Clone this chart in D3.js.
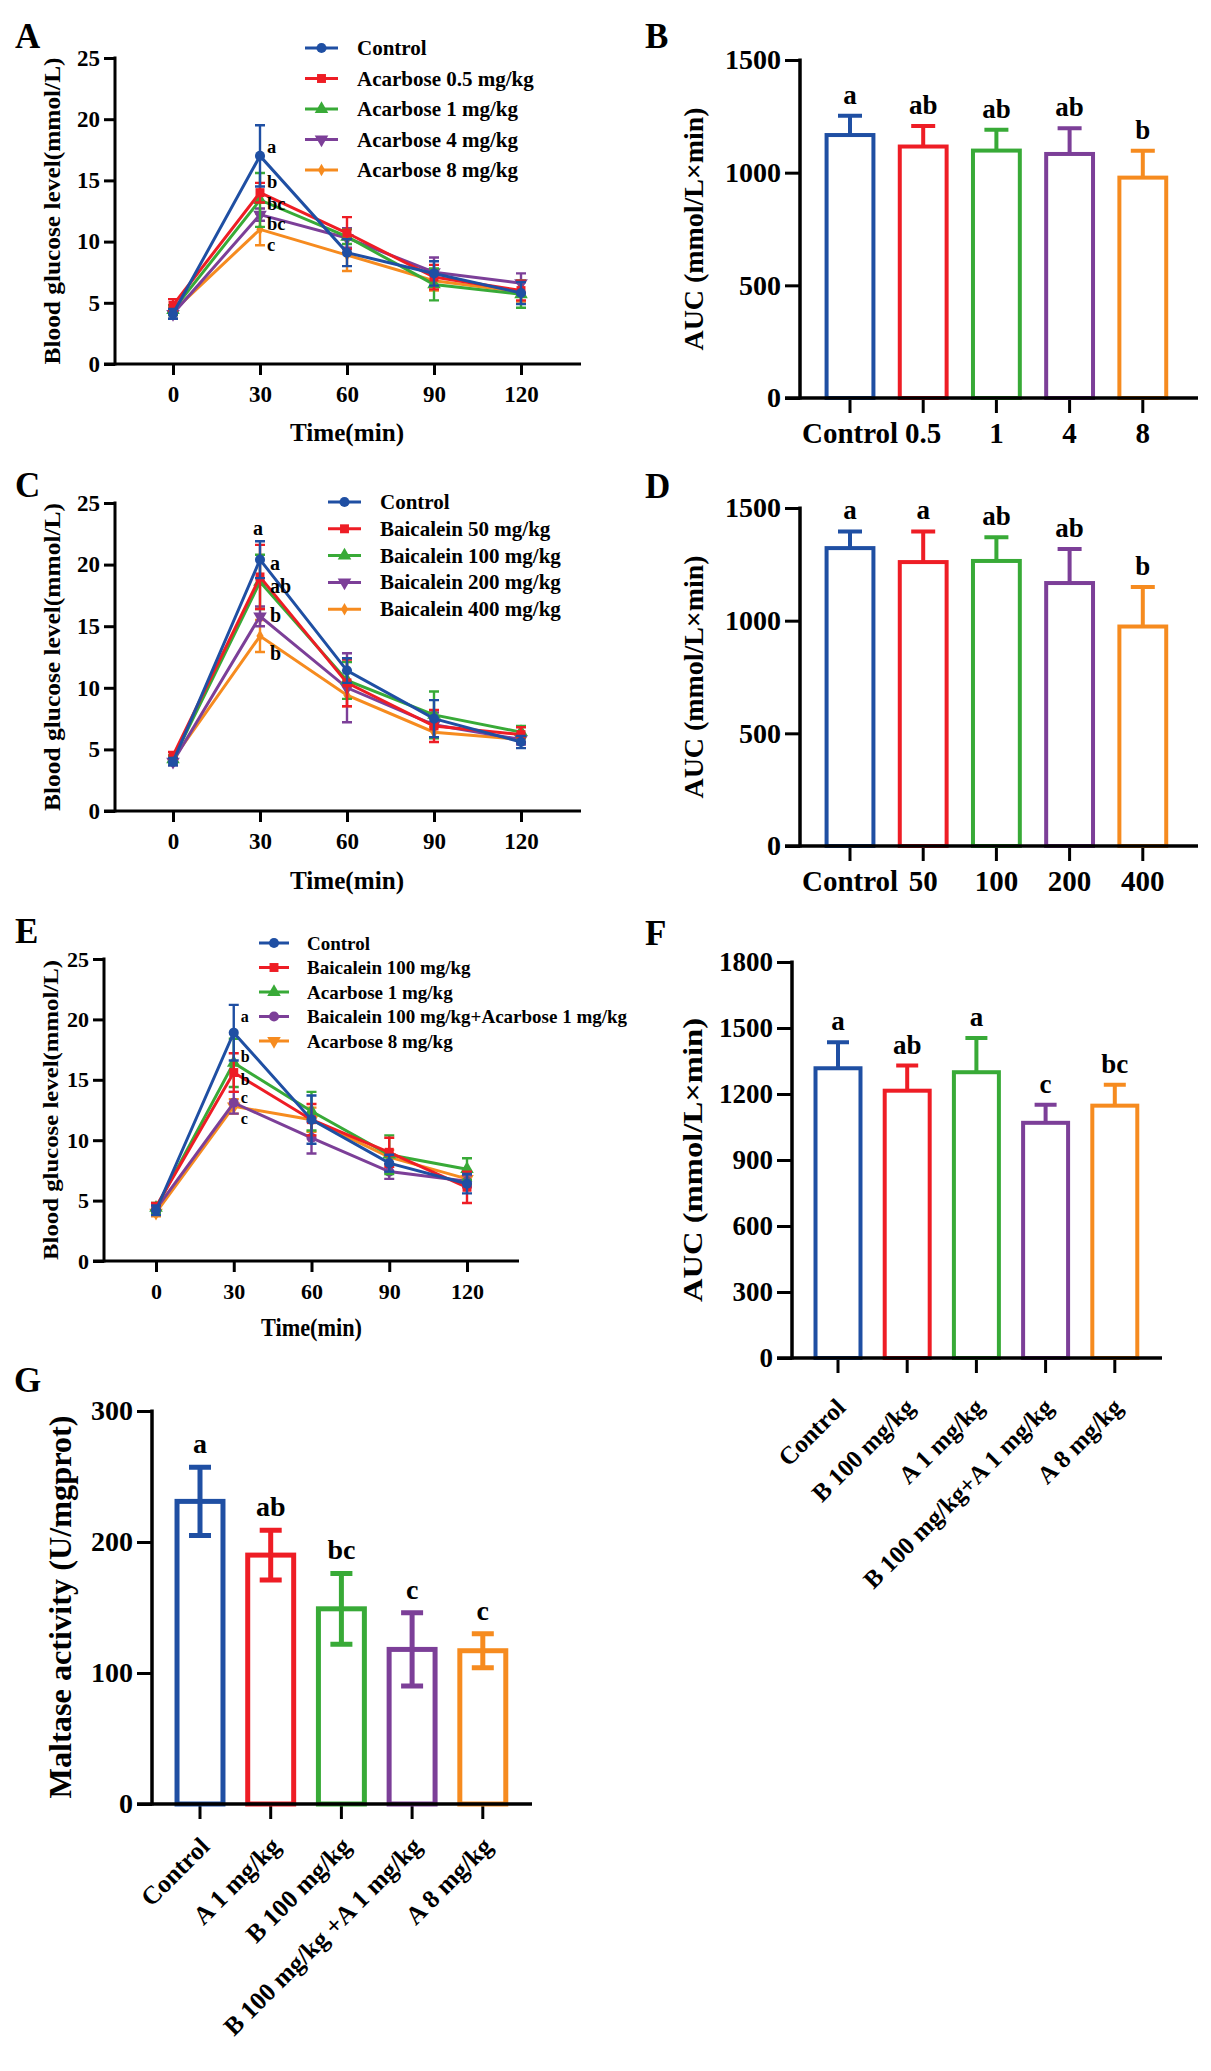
<!DOCTYPE html>
<html>
<head>
<meta charset="utf-8">
<script src="https://cdn.jsdelivr.net/npm/d3@7"></script>
<style>
  html, body { margin: 0; padding: 0; background: #fff; }
  svg { display: block; }
</style>
</head>
<body>
<svg id="fig" width="1211" height="2071"></svg>
<script>
// ------------------------
// Data
// ------------------------
const times = [ 0, 30, 60, 90, 120 ];
const glucoseTicks = [ 0, 5, 10, 15, 20, 25 ];

// A: acarbose OGTT
const acarboseNames = [ 'Control', 'Acarbose 0.5 mg/kg', 'Acarbose 1 mg/kg', 'Acarbose 4 mg/kg', 'Acarbose 8 mg/kg' ];
const acControl = [ 4.1, 17.0, 9.1, 7.4, 5.8 ];
const acControlErr = [ 0.4, 2.5, 1.1, 1.0, 0.9 ];
const ac05 = [ 4.8, 14.0, 10.7, 7.1, 6.0 ];
const ac05Err = [ 0.5, 0.8, 1.3, 1.0, 0.8 ];
const ac1 = [ 4.4, 13.4, 10.4, 6.5, 5.7 ];
const ac1Err = [ 0.4, 2.2, 0.6, 1.3, 1.1 ];
const ac4 = [ 4.1, 12.2, 10.3, 7.5, 6.6 ];
const ac4Err = [ 0.4, 0.5, 0.8, 1.2, 0.8 ];
const ac8 = [ 4.3, 11.0, 8.9, 6.8, 5.9 ];
const ac8Err = [ 0.3, 1.3, 1.3, 0.8, 0.8 ];
const acLetters = [ 'a', 'b', 'bc', 'bc', 'c' ];
const acLetterLevels = [ 17.7, 14.9, 13.1, 11.4, 9.7 ];

// B: acarbose AUC
const aucAcCats = [ 'Control', '0.5', '1', '4', '8' ];
const aucAc = [ 1167, 1116, 1098, 1083, 978 ];
const aucAcErr = [ 86, 91, 92, 114, 119 ];
const aucAcLetters = [ 'a', 'ab', 'ab', 'ab', 'b' ];

// C: baicalein OGTT
const baicaleinNames = [ 'Control', 'Baicalein 50 mg/kg', 'Baicalein 100 mg/kg', 'Baicalein 200 mg/kg', 'Baicalein 400 mg/kg' ];
const baControl = [ 4.0, 20.4, 11.4, 7.5, 5.6 ];
const baControlErr = [ 0.3, 1.5, 1.0, 1.5, 0.5 ];
const ba50 = [ 4.5, 19.0, 10.4, 6.9, 6.2 ];
const ba50Err = [ 0.3, 2.6, 1.9, 1.3, 0.6 ];
const ba100 = [ 4.2, 18.6, 10.6, 7.8, 6.4 ];
const ba100Err = [ 0.3, 2.2, 1.5, 1.9, 0.5 ];
const ba200 = [ 4.0, 15.8, 10.0, 7.0, 5.8 ];
const ba200Err = [ 0.3, 0.8, 2.8, 1.0, 0.4 ];
const ba400 = [ 4.2, 14.2, 9.4, 6.4, 5.8 ];
const ba400Err = [ 0.3, 1.3, 0.9, 0.4, 0.3 ];
const baLetters = [ 'a', 'a', 'ab', 'b', 'b' ];
const baLetterLevels = [ 23.0, 20.1, 18.3, 15.9, 12.8 ];

// D: baicalein AUC
const aucBaCats = [ 'Control', '50', '100', '200', '400' ];
const aucBa = [ 1322, 1260, 1265, 1167, 974 ];
const aucBaErr = [ 74, 136, 105, 151, 175 ];
const aucBaLetters = [ 'a', 'a', 'ab', 'ab', 'b' ];

// E: combination OGTT
const comboNames = [ 'Control', 'Baicalein 100 mg/kg', 'Acarbose 1 mg/kg', 'Baicalein 100 mg/kg+Acarbose 1 mg/kg', 'Acarbose 8 mg/kg' ];
const coControl = [ 4.2, 18.9, 11.7, 8.1, 6.4 ];
const coControlErr = [ 0.4, 2.3, 2.0, 0.7, 0.8 ];
const coB100 = [ 4.5, 15.6, 11.7, 9.0, 6.1 ];
const coB100Err = [ 0.3, 1.6, 1.3, 1.2, 1.3 ];
const coA1 = [ 4.4, 16.4, 12.4, 8.8, 7.6 ];
const coA1Err = [ 0.4, 2.0, 1.6, 1.6, 0.9 ];
const coBA = [ 4.3, 13.1, 10.2, 7.4, 6.6 ];
const coBAErr = [ 0.3, 0.9, 1.3, 0.6, 0.5 ];
const coA8 = [ 4.0, 12.8, 11.7, 8.6, 6.8 ];
const coA8Err = [ 0.3, 0.6, 1.0, 0.6, 0.5 ];
const coLetters = [ 'a', 'b', 'b', 'c', 'c' ];
const coLetterLevels = [ 20.2, 16.9, 15.0, 13.5, 11.8 ];

// F: combination AUC
const aucCoCats = [ 'Control', 'B 100 mg/kg', 'A 1 mg/kg', 'B 100 mg/kg+A 1 mg/kg', 'A 8 mg/kg' ];
const aucCo = [ 1317, 1215, 1299, 1069, 1147 ];
const aucCoErr = [ 118, 114, 156, 82, 95 ];
const aucCoLetters = [ 'a', 'ab', 'a', 'c', 'bc' ];

// G: maltase activity
const maltaseCats = [ 'Control', 'A 1 mg/kg', 'B 100 mg/kg', 'B 100 mg/kg +A 1 mg/kg', 'A 8 mg/kg' ];
const maltase = [ 231, 190, 149, 118, 117 ];
const maltaseErr = [ 26, 19, 27, 28, 13 ];
const maltaseLetters = [ 'a', 'ab', 'bc', 'c', 'c' ];

const aucTicks = [ 0, 500, 1000, 1500 ];
const aucCoTicks = [ 0, 300, 600, 900, 1200, 1500, 1800 ];
const maltaseTicks = [ 0, 100, 200, 300 ];

// ------------------------
// Styling
// ------------------------
const FONT = '"Liberation Serif", "Times New Roman", serif';
const colors = [ '#1f4fa3', '#ee1d25', '#38aa37', '#7c3f98', '#f68b1f' ];
const plain = d3.format( 'd' );

const svg = d3.select( '#fig' );
svg.append( 'rect' ).attr( 'width', 1211 ).attr( 'height', 2071 ).attr( 'fill', '#fff' );

function txt( g, s, size ) {
	return g.append( 'text' )
		.text( s )
		.attr( 'font-family', FONT )
		.attr( 'font-weight', 'bold' )
		.attr( 'font-size', size )
		.attr( 'fill', '#000' );
}

function panelLetter( s, x, y ) {
	txt( svg, s, 35 ).attr( 'x', x ).attr( 'y', y );
}

function yTitle( s, x, yc, size, len ) {
	txt( svg, s, size )
		.attr( 'text-anchor', 'middle' )
		.attr( 'dominant-baseline', 'central' )
		.attr( 'textLength', len )
		.attr( 'lengthAdjust', 'spacingAndGlyphs' )
		.attr( 'transform', `translate(${ x },${ yc }) rotate(-90)` );
}

function styleAxis( g, size ) {
	g.select( '.domain' ).remove();
	g.selectAll( '.tick line' ).attr( 'stroke', '#000' ).attr( 'stroke-width', 3 );
	g.selectAll( '.tick text' )
		.attr( 'font-family', FONT )
		.attr( 'font-weight', 'bold' )
		.attr( 'font-size', size )
		.attr( 'fill', '#000' );
}

function symbolPath( kind, size ) {
	if ( kind === 'down' ) {
		return d3.symbol( d3.symbolTriangle, size )();
	}
	const t = { circle: d3.symbolCircle, square: d3.symbolSquare, up: d3.symbolTriangle, diamond: d3.symbolDiamond }[ kind ];
	return d3.symbol( t, size )();
}

function drawMarker( g, kind, cx, cy, color, size ) {
	g.append( 'path' )
		.attr( 'd', symbolPath( kind, size ) )
		.attr( 'fill', color )
		.attr( 'transform', `translate(${ cx },${ cy })${ kind === 'down' ? ' rotate(180)' : '' }` );
}

// ------------------------
// Line chart panel (glucose over time)
// ------------------------
function linePanel( o ) {
	const g = svg.append( 'g' );
	const x = d3.scaleLinear().domain( [ 0, 120 ] ).range( [ o.x0, o.x120 ] );
	const y = d3.scaleLinear().domain( [ 0, 25 ] ).range( [ o.yBottom, o.yTop ] );

	// axes
	const ya = g.append( 'g' )
		.attr( 'transform', `translate(${ o.axisX },0)` )
		.call( d3.axisLeft( y ).tickValues( glucoseTicks ).tickSize( 11 ).tickPadding( 4 ).tickSizeOuter( 0 ) );
	styleAxis( ya, o.tickFont );
	const xa = g.append( 'g' )
		.attr( 'transform', `translate(0,${ o.yBottom })` )
		.call( d3.axisBottom( x ).tickValues( times ).tickSize( 11 ).tickPadding( 11 ).tickSizeOuter( 0 ) );
	styleAxis( xa, o.tickFont );
	g.append( 'line' )
		.attr( 'x1', o.axisX ).attr( 'x2', o.axisX )
		.attr( 'y1', o.yBottom + 1.5 ).attr( 'y2', y( 25 ) - 1.5 )
		.attr( 'stroke', '#000' ).attr( 'stroke-width', 3 );
	g.append( 'line' )
		.attr( 'x1', o.axisX - 11 ).attr( 'x2', o.xEnd )
		.attr( 'y1', o.yBottom ).attr( 'y2', o.yBottom )
		.attr( 'stroke', '#000' ).attr( 'stroke-width', 3 );

	txt( g, 'Time(min)', 25 )
		.attr( 'x', x( 60 ) ).attr( 'y', o.timeY )
		.attr( 'text-anchor', 'middle' )
		.attr( 'dominant-baseline', 'central' )
		.attr( 'textLength', o.timeLen )
		.attr( 'lengthAdjust', 'spacingAndGlyphs' );

	// series, control drawn last so it sits on top
	const line = d3.line().x( ( d, i ) => x( times[ i ] ) ).y( d => y( d ) );
	o.series.slice().reverse().forEach( s => {
		g.append( 'path' )
			.attr( 'd', line( s.values ) )
			.attr( 'fill', 'none' )
			.attr( 'stroke', s.color )
			.attr( 'stroke-width', 3 );
		s.values.forEach( ( v, i ) => {
			const cx = x( times[ i ] );
			const e = s.errs[ i ];
			g.append( 'path' )
				.attr( 'd', `M${ cx },${ y( v - e ) }V${ y( v + e ) }M${ cx - 5 },${ y( v - e ) }H${ cx + 5 }M${ cx - 5 },${ y( v + e ) }H${ cx + 5 }` )
				.attr( 'stroke', s.color )
				.attr( 'stroke-width', 2.4 )
				.attr( 'fill', 'none' );
			drawMarker( g, s.symbol, cx, y( v ), s.color, s.symbol === 'diamond' ? 45 : 80 );
		} );
	} );

	// significance letters at 30 min
	o.letters.forEach( ( l, i ) => {
		const t = txt( g, l, o.letterFont )
			.attr( 'y', y( o.letterLevels[ i ] ) )
			.attr( 'dominant-baseline', 'central' );
		if ( o.firstAbove && i === 0 ) {
			t.attr( 'x', x( 30 ) - 2 ).attr( 'text-anchor', 'middle' );
		} else {
			t.attr( 'x', x( 30 ) + o.letterDx );
		}
	} );

	// legend
	o.series.forEach( ( s, i ) => {
		const ly = o.legendY + i * o.legendStep;
		g.append( 'line' )
			.attr( 'x1', o.legendX ).attr( 'x2', o.legendX + o.legendW )
			.attr( 'y1', ly ).attr( 'y2', ly )
			.attr( 'stroke', s.color ).attr( 'stroke-width', 3 );
		drawMarker( g, s.symbol, o.legendX + o.legendW / 2, ly, s.color, s.symbol === 'diamond' ? 45 : 80 );
		txt( g, s.name, o.legendFont )
			.attr( 'x', o.legendTextX ).attr( 'y', ly )
			.attr( 'dominant-baseline', 'central' );
	} );
}

// ------------------------
// Bar chart panel (open bars, SEM whiskers)
// ------------------------
function barPanel( o ) {
	const g = svg.append( 'g' );
	const n = o.cats.length;
	const band = d3.scaleBand()
		.domain( o.cats )
		.range( [ o.firstCenter - o.step / 2, o.firstCenter + o.step * ( n - 0.5 ) ] )
		.paddingInner( o.pad )
		.paddingOuter( o.pad / 2 );
	const y = d3.scaleLinear().domain( [ 0, o.yMax ] ).range( [ o.yBottom, o.yTop ] );
	const bw = band.bandwidth();

	const ya = g.append( 'g' )
		.attr( 'transform', `translate(${ o.axisX },0)` )
		.call( d3.axisLeft( y ).tickValues( o.ticks ).tickFormat( plain ).tickSize( 15 ).tickPadding( 4 ).tickSizeOuter( 0 ) );
	styleAxis( ya, o.tickFont );

	const xa = g.append( 'g' )
		.attr( 'transform', `translate(0,${ o.yBottom })` )
		.call( d3.axisBottom( band ).tickSize( 15 ).tickPadding( 9 ).tickSizeOuter( 0 ) );
	styleAxis( xa, o.catFont );
	if ( o.rotate ) {
		xa.selectAll( '.tick text' )
			.attr( 'text-anchor', 'end' )
			.attr( 'dy', null )
			.attr( 'y', null )
			.attr( 'transform', `translate(${ o.rotDx },${ o.rotDy }) rotate(-45)` );
	}

	g.selectAll( 'rect.bar' )
		.data( o.values )
		.join( 'rect' )
		.attr( 'class', 'bar' )
		.attr( 'x', ( d, i ) => band( o.cats[ i ] ) )
		.attr( 'width', bw )
		.attr( 'y', d => y( d ) )
		.attr( 'height', d => o.yBottom - y( d ) )
		.attr( 'fill', '#fff' )
		.attr( 'stroke', ( d, i ) => colors[ i ] )
		.attr( 'stroke-width', o.barStroke );

	o.values.forEach( ( v, i ) => {
		const cx = band( o.cats[ i ] ) + bw / 2;
		const e = o.errs[ i ];
		const lo = o.both ? v - e : v;
		const cap = o.capW / 2;
		g.append( 'path' )
			.attr( 'd', `M${ cx },${ y( lo ) }V${ y( v + e ) }M${ cx - cap },${ y( v + e ) }H${ cx + cap }` +
				( o.both ? `M${ cx - cap },${ y( lo ) }H${ cx + cap }` : '' ) )
			.attr( 'stroke', colors[ i ] )
			.attr( 'stroke-width', o.barStroke )
			.attr( 'fill', 'none' );
		txt( g, o.letters[ i ], o.letterFont )
			.attr( 'x', cx )
			.attr( 'y', y( v + e ) - o.letterGap )
			.attr( 'text-anchor', 'middle' );
	} );

	// axis lines
	g.append( 'line' )
		.attr( 'x1', o.axisX ).attr( 'x2', o.axisX )
		.attr( 'y1', o.yBottom + 1.5 ).attr( 'y2', o.yTop - 1.5 )
		.attr( 'stroke', '#000' ).attr( 'stroke-width', 3.5 );
	g.append( 'line' )
		.attr( 'x1', o.axisX - 15 ).attr( 'x2', o.xEnd )
		.attr( 'y1', o.yBottom ).attr( 'y2', o.yBottom )
		.attr( 'stroke', '#000' ).attr( 'stroke-width', 3.5 );
}

function series( names, vals, errs, symbols ) {
	return names.map( ( name, i ) => ( { name, values: vals[ i ], errs: errs[ i ], color: colors[ i ], symbol: symbols[ i ] } ) );
}

// ------------------------
// A
// ------------------------
panelLetter( 'A', 15, 48 );
yTitle( 'Blood glucose level(mmol/L)', 52, 211, 24, 307 );
linePanel( {
	x0: 173, x120: 521, axisX: 115, xEnd: 581, yBottom: 364, yTop: 58,
	tickFont: 23, timeY: 432, timeLen: 114,
	series: series( acarboseNames,
		[ acControl, ac05, ac1, ac4, ac8 ],
		[ acControlErr, ac05Err, ac1Err, ac4Err, ac8Err ],
		[ 'circle', 'square', 'up', 'down', 'diamond' ] ),
	letters: acLetters, letterLevels: acLetterLevels, letterFont: 18.5, letterDx: 7, firstAbove: false,
	legendX: 305, legendW: 33, legendTextX: 357, legendY: 48, legendStep: 30.5, legendFont: 21,
} );

// ------------------------
// B
// ------------------------
panelLetter( 'B', 645, 48 );
yTitle( 'AUC (mmol/L×min)', 694, 229, 27, 243 );
barPanel( {
	cats: aucAcCats, values: aucAc, errs: aucAcErr, letters: aucAcLetters,
	firstCenter: 850, step: 73.2, pad: 0.36, axisX: 800, xEnd: 1198,
	yBottom: 398, yTop: 60, yMax: 1500, ticks: aucTicks,
	tickFont: 28, catFont: 29, letterFont: 27, letterGap: 12, barStroke: 4, capW: 24, both: false,
} );

// ------------------------
// C
// ------------------------
panelLetter( 'C', 15, 497 );
yTitle( 'Blood glucose level(mmol/L)', 52, 657, 24, 308 );
linePanel( {
	x0: 173, x120: 521, axisX: 115, xEnd: 581, yBottom: 811, yTop: 503,
	tickFont: 23, timeY: 880, timeLen: 114,
	series: series( baicaleinNames,
		[ baControl, ba50, ba100, ba200, ba400 ],
		[ baControlErr, ba50Err, ba100Err, ba200Err, ba400Err ],
		[ 'circle', 'square', 'up', 'down', 'diamond' ] ),
	letters: baLetters, letterLevels: baLetterLevels, letterFont: 20, letterDx: 10, firstAbove: true,
	legendX: 328, legendW: 33, legendTextX: 380, legendY: 502, legendStep: 26.8, legendFont: 21,
} );

// ------------------------
// D
// ------------------------
panelLetter( 'D', 645, 498 );
yTitle( 'AUC (mmol/L×min)', 694, 677, 27, 243 );
barPanel( {
	cats: aucBaCats, values: aucBa, errs: aucBaErr, letters: aucBaLetters,
	firstCenter: 850, step: 73.2, pad: 0.36, axisX: 800, xEnd: 1198,
	yBottom: 846, yTop: 508, yMax: 1500, ticks: aucTicks,
	tickFont: 28, catFont: 29, letterFont: 27, letterGap: 12, barStroke: 4, capW: 24, both: false,
} );

// ------------------------
// E
// ------------------------
panelLetter( 'E', 15, 943 );
yTitle( 'Blood glucose level(mmol/L)', 50, 1110, 22, 300 );
linePanel( {
	x0: 156, x120: 467, axisX: 104, xEnd: 519, yBottom: 1261, yTop: 959,
	tickFont: 22, timeY: 1327, timeLen: 101,
	series: series( comboNames,
		[ coControl, coB100, coA1, coBA, coA8 ],
		[ coControlErr, coB100Err, coA1Err, coBAErr, coA8Err ],
		[ 'circle', 'square', 'up', 'circle', 'down' ] ),
	letters: coLetters, letterLevels: coLetterLevels, letterFont: 16, letterDx: 7, firstAbove: false,
	legendX: 259, legendW: 30, legendTextX: 307, legendY: 943, legendStep: 24.5, legendFont: 19,
} );

// ------------------------
// F
// ------------------------
panelLetter( 'F', 645, 945 );
yTitle( 'AUC (mmol/L×min)', 692, 1160, 28, 284 );
barPanel( {
	cats: aucCoCats, values: aucCo, errs: aucCoErr, letters: aucCoLetters,
	firstCenter: 838, step: 69.2, pad: 0.35, axisX: 792, xEnd: 1162,
	yBottom: 1358, yTop: 962, yMax: 1800, ticks: aucCoTicks,
	tickFont: 27, catFont: 25, letterFont: 27, letterGap: 12, barStroke: 4, capW: 22, both: false,
	rotate: true, rotDx: 9, rotDy: 51,
} );

// ------------------------
// G
// ------------------------
panelLetter( 'G', 14, 1392 );
yTitle( 'Maltase activity (U/mgprot)', 60, 1607, 32, 383 );
barPanel( {
	cats: maltaseCats, values: maltase, errs: maltaseErr, letters: maltaseLetters,
	firstCenter: 200, step: 70.7, pad: 0.35, axisX: 152, xEnd: 532,
	yBottom: 1804, yTop: 1411, yMax: 300, ticks: maltaseTicks,
	tickFont: 28, catFont: 25.5, letterFont: 28, letterGap: 14, barStroke: 5, capW: 22, both: true,
	rotate: true, rotDx: 11, rotDy: 44,
} );
</script>
</body>
</html>
